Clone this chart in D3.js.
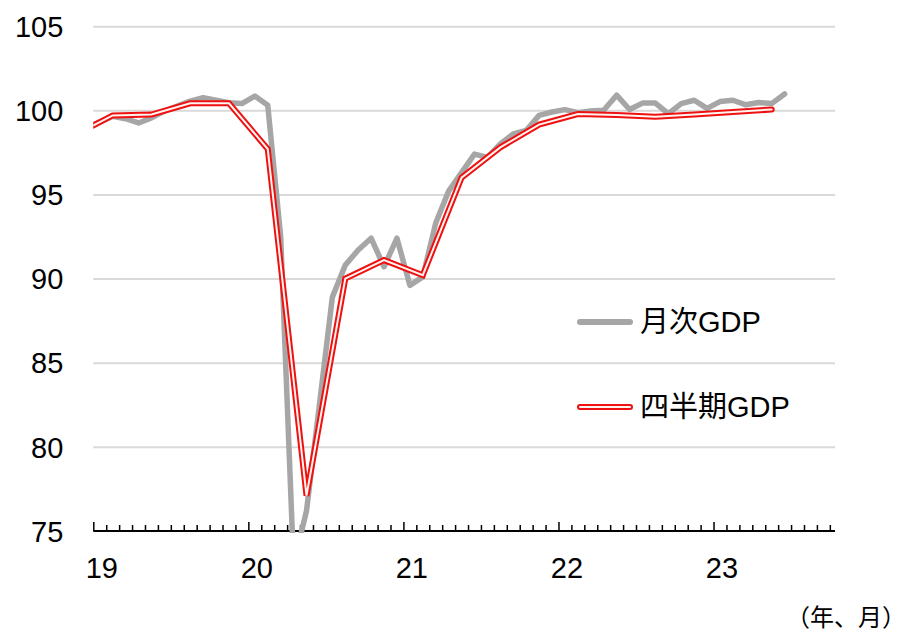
<!DOCTYPE html>
<html>
<head>
<meta charset="utf-8">
<script src="https://cdn.jsdelivr.net/npm/d3@7"></script>
<style>
  body { margin: 0; background: #fff; }
  svg { display: block; font-family: "Liberation Sans", Arial, "Noto Sans CJK JP", sans-serif; }
</style>
</head>
<body>
<div id="chart"></div>
<script>
// month index 0 = 2019/01
var monthlyStart = -1; // first monthly value is 2018/12
var monthlyGDP = [
  99.0,
  99.3, 99.65, 99.5, 99.25, 99.55, 99.95, 100.25, 100.55, 100.75, 100.6, 100.45, 100.4,
  100.85, 100.3, 92.5, 73.0, 76.2, 82.5, 88.9, 90.8, 91.7, 92.4, 90.7, 92.4,
  89.6, 90.1, 93.3, 95.2, 96.3, 97.4, 97.2, 98.0, 98.6, 98.8, 99.7, 99.9,
  100.04, 99.86, 99.96, 100.0, 100.9, 100.05, 100.43, 100.43, 99.8, 100.4, 100.6, 100.12,
  100.52, 100.6, 100.33, 100.47, 100.4, 100.97
];

// quarterly values plotted at the middle month of each quarter
var quarterMonths = [-2, 1, 4, 7, 10, 13, 16, 19, 22, 25, 28, 31, 34, 37, 40, 43, 46, 49, 52];
var quarterlyGDP = [98.5, 99.7, 99.75, 100.42, 100.42, 97.7, 77.1, 90.0, 91.1, 90.2,
  96.0, 97.8, 99.15, 99.78, 99.72, 99.62, 99.75, 99.9, 100.05];

var yTicks = [75, 80, 85, 90, 95, 100, 105];
var yearLabels = ["19", "20", "21", "22", "23"];
var seriesNames = ["月次GDP", "四半期GDP"];
var unitLabel = "（年、月）";

var width = 914, height = 635;
var plot = {left: 93.3, right: 835, top: 26, bottom: 531};

var svg = d3.select("#chart")
  .append("svg")
  .attr("width", width)
  .attr("height", height);

var x = d3.scaleLinear().domain([0, 57.4]).range([plot.left, plot.right]);
var y = d3.scaleLinear().domain([75, 105]).range([plot.bottom, plot.top + 0.2]);

svg.append("clipPath").attr("id", "clip")
  .append("rect")
  .attr("x", plot.left).attr("y", 0)
  .attr("width", plot.right - plot.left)
  .attr("height", plot.bottom + 2);

// gridlines
svg.append("g")
  .attr("transform", "translate(" + plot.left + ",0)")
  .call(d3.axisLeft(y).tickValues(yTicks.slice(1)).tickSize(-(plot.right - plot.left)).tickFormat(""))
  .call(function(g) {
    g.select(".domain").remove();
    g.selectAll("line").attr("stroke", "#d9d9d9").attr("stroke-width", 2);
  });

// y labels
svg.append("g")
  .attr("transform", "translate(" + plot.left + ",0)")
  .call(d3.axisLeft(y).tickValues(yTicks).tickSize(0).tickPadding(30))
  .call(function(g) {
    g.select(".domain").remove();
    g.selectAll("text")
      .attr("fill", "#000")
      .style("font-size", "29px")
      .attr("dy", "0.35em");
  });

// x axis: month ticks pointing up, taller at year start
var monthTicks = d3.range(0, 58);
svg.append("g")
  .attr("transform", "translate(0," + plot.bottom + ")")
  .call(d3.axisTop(x).tickValues(monthTicks).tickSizeOuter(0).tickFormat("")
    .tickSize(6))
  .call(function(g) {
    g.select(".domain").attr("stroke", "#000").attr("stroke-width", 2)
      .attr("d", "M" + plot.left + ",0H" + plot.right);
    g.selectAll(".tick line")
      .attr("stroke", "#000").attr("stroke-width", 1.5)
      .attr("y2", function(d) { return d % 12 == 0 ? -9 : -6; });
  });

svg.append("g")
  .selectAll("text")
  .data(yearLabels)
  .enter().append("text")
  .attr("x", function(d, i) { return x(i * 12 + 0.5) + 2; })
  .attr("y", 568)
  .attr("dy", "0.35em")
  .attr("text-anchor", "middle")
  .style("font-size", "29px")
  .text(function(d) { return d; });

// unit label, kept a little off the bottom edge
svg.append("text")
  .attr("x", 906)
  .attr("y", 626)
  .attr("text-anchor", "end")
  .style("font-size", "24px")
  .style("font-family", "'Noto Sans CJK JP', sans-serif")
  .text(unitLabel);

// lines
var monthlyPts = monthlyGDP.map(function(v, i) { return [monthlyStart + i + 0.5, v]; });
var quarterlyPts = quarterlyGDP.map(function(v, i) { return [quarterMonths[i] + 0.5, v]; });

var line = d3.line()
  .x(function(d) { return x(d[0]); })
  .y(function(d) { return y(d[1]); });

var lines = svg.append("g").attr("clip-path", "url(#clip)");

lines.append("path")
  .attr("d", line(monthlyPts))
  .attr("fill", "none")
  .attr("stroke", "#a6a6a6")
  .attr("stroke-width", 5.5)
  .attr("stroke-linejoin", "round")
  .attr("stroke-linecap", "round");

lines.append("path")
  .attr("d", line(quarterlyPts))
  .attr("fill", "none")
  .attr("stroke", "#ee1111")
  .attr("stroke-width", 6)
  .attr("stroke-linejoin", "miter")
  .attr("stroke-linecap", "round");

lines.append("path")
  .attr("d", line(quarterlyPts))
  .attr("fill", "none")
  .attr("stroke", "#fff4f0")
  .attr("stroke-width", 2)
  .attr("stroke-linejoin", "miter")
  .attr("stroke-linecap", "round");

// legend
var legend = svg.append("g");
var legendY = [322, 407];

legend.append("line")
  .attr("x1", 580).attr("x2", 630)
  .attr("y1", legendY[0]).attr("y2", legendY[0])
  .attr("stroke", "#a6a6a6").attr("stroke-width", 6)
  .attr("stroke-linecap", "round");

legend.append("line")
  .attr("x1", 580).attr("x2", 630)
  .attr("y1", legendY[1]).attr("y2", legendY[1])
  .attr("stroke", "#ee1111").attr("stroke-width", 6)
  .attr("stroke-linecap", "round");
legend.append("line")
  .attr("x1", 580).attr("x2", 630)
  .attr("y1", legendY[1]).attr("y2", legendY[1])
  .attr("stroke", "#fff4f0").attr("stroke-width", 2)
  .attr("stroke-linecap", "round");

legend.selectAll("text.name")
  .data(seriesNames)
  .enter().append("text")
  .attr("class", "name")
  .attr("x", 640)
  .attr("y", function(d, i) { return legendY[i]; })
  .attr("dy", "0.35em")
  .style("font-size", "29px")
  .text(function(d) { return d; });
</script>
</body>
</html>
